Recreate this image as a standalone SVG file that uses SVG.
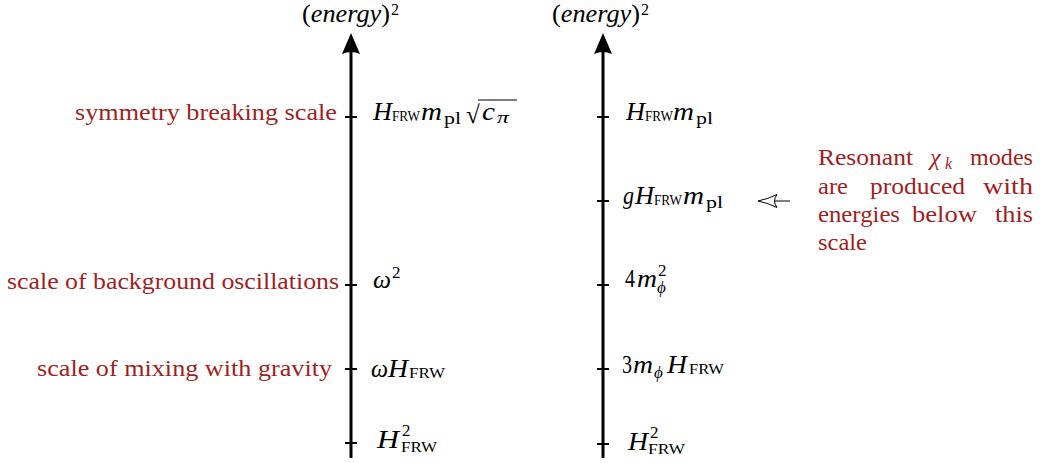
<svg xmlns="http://www.w3.org/2000/svg" width="1040" height="463" viewBox="0 0 1040 463">
<style>
text{font-family:"Liberation Serif","DejaVu Serif",serif;fill:#000}
.lab{font-size:24px;fill:#a01f1f}
.mi{font-size:25px;font-style:italic}
.rm{font-size:25px}
.sc{font-size:14px}
.s{font-size:17px}
.p{font-size:17px}
.si{font-size:17px;font-style:italic}
.ax{stroke:#000;stroke-width:3;fill:none}
.tk{stroke:#000;stroke-width:2}
</style>
<defs>
<marker id="ah" markerUnits="userSpaceOnUse" viewBox="0 0 21 18" markerWidth="21" markerHeight="18" refX="9" refY="9" orient="auto">
<path d="M21,9 L0,0 Q4,9 0,18 Z" fill="#000"/>
</marker>
</defs>
<rect width="1040" height="463" fill="#fff"/>
<g id="connectors">
<line class="ax" x1="351" y1="458" x2="351" y2="45" marker-end="url(#ah)"/>
<line class="ax" x1="603" y1="458" x2="603" y2="45" marker-end="url(#ah)"/>
<line class="tk" x1="345" y1="117" x2="357" y2="117"/>
<line class="tk" x1="345" y1="285" x2="357" y2="285"/>
<line class="tk" x1="345" y1="369" x2="357" y2="369"/>
<line class="tk" x1="345" y1="443" x2="357" y2="443"/>
<line class="tk" x1="597" y1="117" x2="609" y2="117"/>
<line class="tk" x1="597" y1="201" x2="609" y2="201"/>
<line class="tk" x1="597" y1="285" x2="609" y2="285"/>
<line class="tk" x1="597" y1="369" x2="609" y2="369"/>
<line class="tk" x1="597" y1="444" x2="609" y2="444"/>
<line x1="773" y1="201" x2="790" y2="201" stroke="#000" stroke-width="1"/>
<path d="M777,194.5 Q768,199 758,201 Q768,203 777,207.5 Q772,201 777,194.5 Z" fill="#fff" stroke="#000" stroke-width="1"/>
</g>
<g id="axis-left-title">
<text class="rm" x="302" y="22" textLength="88" lengthAdjust="spacingAndGlyphs">(<tspan font-style="italic">energy</tspan>)</text>
<text x="391" y="15" style="font-size:16px">2</text>
</g>
<g id="axis-right-title">
<text class="rm" x="552" y="22" textLength="88" lengthAdjust="spacingAndGlyphs">(<tspan font-style="italic">energy</tspan>)</text>
<text x="641" y="15" style="font-size:16px">2</text>
</g>
<g id="symmetry-breaking">
<text class="lab" x="75" y="120" textLength="262" lengthAdjust="spacingAndGlyphs">symmetry breaking scale</text>
<text class="mi" x="373" y="120" textLength="19" lengthAdjust="spacingAndGlyphs">H</text>
<text class="sc" x="392" y="121" textLength="28" lengthAdjust="spacingAndGlyphs">FRW</text>
<text class="mi" x="421" y="120" textLength="21" lengthAdjust="spacingAndGlyphs">m</text>
<text class="p" x="444" y="124" textLength="17" lengthAdjust="spacingAndGlyphs">pl</text>
<text class="rm" x="466" y="123">√</text>
<line x1="478" y1="100" x2="517" y2="100" stroke="#000" stroke-width="1.2"/>
<text class="mi" x="482" y="120" textLength="13" lengthAdjust="spacingAndGlyphs">c</text>
<text class="si" x="497" y="123" textLength="12" lengthAdjust="spacingAndGlyphs">π</text>
</g>
<g id="background-oscillations">
<text class="lab" x="7" y="289" textLength="332" lengthAdjust="spacingAndGlyphs">scale of background oscillations</text>
<text class="mi" x="373" y="288" textLength="18" lengthAdjust="spacingAndGlyphs">ω</text>
<text class="s" x="392" y="278">2</text>
</g>
<g id="mixing-gravity">
<text class="lab" x="37" y="376" textLength="295" lengthAdjust="spacingAndGlyphs">scale of mixing with gravity</text>
<text class="mi" x="371" y="377" textLength="17" lengthAdjust="spacingAndGlyphs">ω</text>
<text class="mi" x="388" y="377" textLength="20" lengthAdjust="spacingAndGlyphs">H</text>
<text class="sc" x="409" y="378" textLength="36" lengthAdjust="spacingAndGlyphs">FRW</text>
</g>
<g id="hubble-left">
<text class="mi" x="377" y="448" textLength="22" lengthAdjust="spacingAndGlyphs">H</text>
<text class="s" x="402" y="436">2</text>
<text class="sc" x="401" y="452" textLength="36" lengthAdjust="spacingAndGlyphs">FRW</text>
</g>
<g id="hfrw-mpl">
<text class="mi" x="626" y="120" textLength="19" lengthAdjust="spacingAndGlyphs">H</text>
<text class="sc" x="645" y="121" textLength="28" lengthAdjust="spacingAndGlyphs">FRW</text>
<text class="mi" x="673" y="120" textLength="21" lengthAdjust="spacingAndGlyphs">m</text>
<text class="p" x="696" y="124" textLength="17" lengthAdjust="spacingAndGlyphs">pl</text>
</g>
<g id="g-hfrw-mpl">
<text class="mi" x="623" y="204" textLength="11" lengthAdjust="spacingAndGlyphs">g</text>
<text class="mi" x="635" y="204" textLength="19" lengthAdjust="spacingAndGlyphs">H</text>
<text class="sc" x="654" y="205" textLength="28" lengthAdjust="spacingAndGlyphs">FRW</text>
<text class="mi" x="683" y="204" textLength="21" lengthAdjust="spacingAndGlyphs">m</text>
<text class="p" x="706" y="208" textLength="17" lengthAdjust="spacingAndGlyphs">pl</text>
</g>
<g id="resonant-note">
<text class="lab" x="818" y="165" textLength="95" lengthAdjust="spacingAndGlyphs">Resonant</text>
<text class="lab" x="930" y="165" font-style="italic">χ</text>
<text class="lab" x="945" y="169" font-style="italic" style="font-size:16px">k</text>
<text class="lab" x="970" y="165" textLength="63" lengthAdjust="spacingAndGlyphs">modes</text>
<text class="lab" x="818" y="194" textLength="30" lengthAdjust="spacingAndGlyphs">are</text>
<text class="lab" x="870" y="194" textLength="95" lengthAdjust="spacingAndGlyphs">produced</text>
<text class="lab" x="983" y="194" textLength="50" lengthAdjust="spacingAndGlyphs">with</text>
<text class="lab" x="818" y="222" textLength="82" lengthAdjust="spacingAndGlyphs">energies</text>
<text class="lab" x="912" y="222" textLength="65" lengthAdjust="spacingAndGlyphs">below</text>
<text class="lab" x="995" y="222" textLength="38" lengthAdjust="spacingAndGlyphs">this</text>
<text class="lab" x="818" y="250" textLength="49" lengthAdjust="spacingAndGlyphs">scale</text>
</g>
<g id="four-mphi2">
<text class="rm" x="625" y="287" textLength="10" lengthAdjust="spacingAndGlyphs">4</text>
<text class="mi" x="637" y="287" textLength="20" lengthAdjust="spacingAndGlyphs">m</text>
<text class="s" x="658" y="276">2</text>
<text class="si" x="657" y="293">ϕ</text>
</g>
<g id="three-mphi-hfrw">
<text class="rm" x="622" y="373" textLength="10" lengthAdjust="spacingAndGlyphs">3</text>
<text class="mi" x="633" y="373" textLength="20" lengthAdjust="spacingAndGlyphs">m</text>
<text class="si" x="654" y="378">ϕ</text>
<text class="mi" x="667" y="373" textLength="20" lengthAdjust="spacingAndGlyphs">H</text>
<text class="sc" x="689" y="374" textLength="35" lengthAdjust="spacingAndGlyphs">FRW</text>
</g>
<g id="hubble-right">
<text class="mi" x="628" y="450" textLength="20" lengthAdjust="spacingAndGlyphs">H</text>
<text class="s" x="650" y="438">2</text>
<text class="sc" x="648" y="454" textLength="37" lengthAdjust="spacingAndGlyphs">FRW</text>
</g>
</svg>
